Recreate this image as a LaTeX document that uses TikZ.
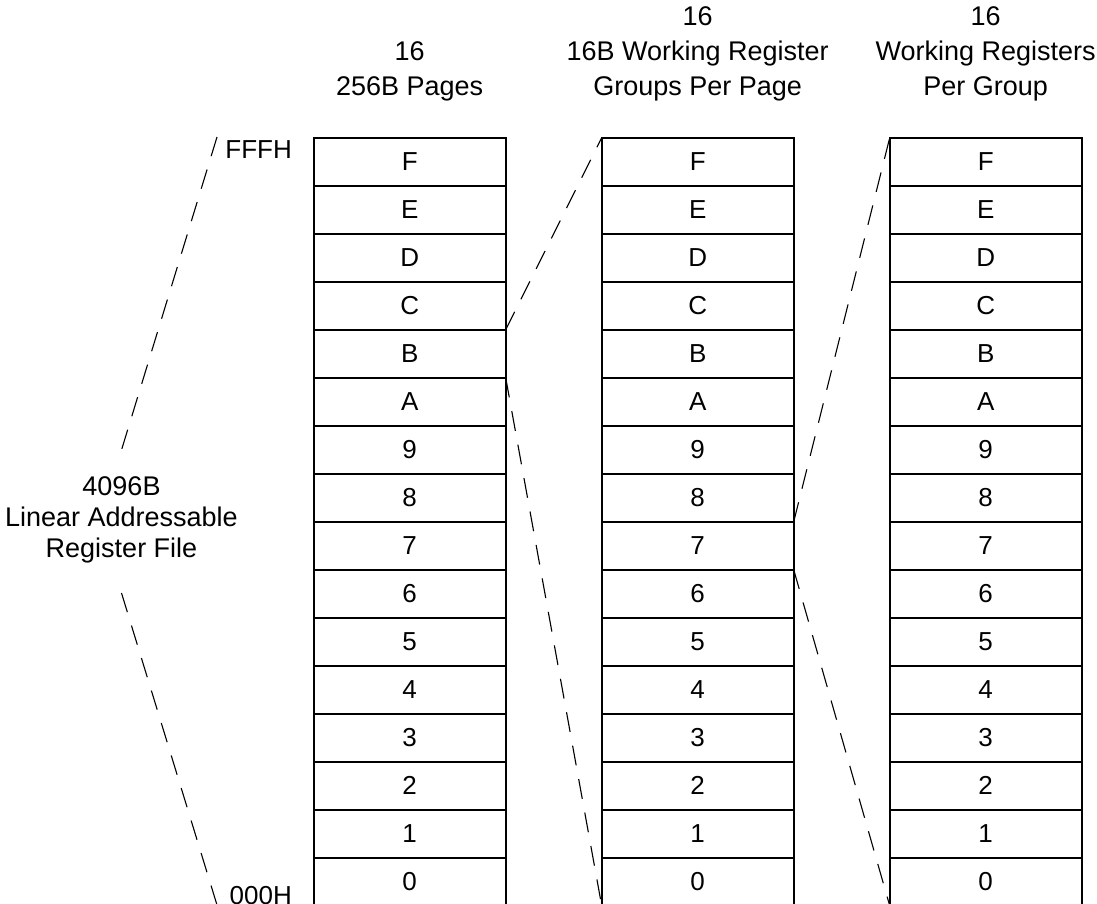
\documentclass[tikz,border=0pt]{standalone}
\usepackage{fontspec}
\setmainfont{Liberation Sans}
\begin{document}
\begin{tikzpicture}[x=1pt,y=-1pt,
  cell/.style={draw=black,line width=2pt,minimum width=192pt,minimum height=48pt,inner sep=0pt,outer sep=0pt,font=\fontsize{26}{30}\selectfont},
  lbl/.style={align=center,inner sep=0pt,font=\fontsize{27}{35}\selectfont},
  side/.style={inner sep=0pt,font=\fontsize{26}{30}\selectfont},
  dashline/.style={draw=black,line width=1.1pt,dash pattern=on 20pt off 14pt}]
\useasboundingbox (0,0) rectangle (1097,903);
\foreach \col/\cx in {a/409.7,b/697.7,c/985.7}{
  \foreach \t [count=\k from 0] in {F,E,D,C,B,A,9,8,7,6,5,4,3,2,1,0}{
    \node[cell] (\col-\k) at (\cx,161.7+48*\k) {\t};
  }
}
\node[lbl] (h1) at (409.7,71) {16\\256B Pages};
\node[lbl] (h2) at (697.7,53.5) {16\\16B Working Register\\Groups Per Page};
\node[lbl] (h3) at (985.7,53.5) {16\\Working Registers\\Per Group};
\node[lbl,font=\fontsize{27}{31}\selectfont] (file) at (121.5,520) {4096B\\Linear Addressable\\Register File};
\node[side,anchor=east] (top) at (292,150) {FFFH};
\node[side,anchor=east] (bot) at (292,896) {000H};
\coordinate (ltop) at (217,137);
\coordinate (lt) at (121.5,450);
\coordinate (lb) at (121.5,593);
\coordinate (lbot) at (217,905);
\draw[dashline] (ltop) -- (lt);
\draw[dashline] (lb) -- (lbot);
\draw[dashline] (a-3.south east) -- (b-0.north west);
\draw[dashline] (a-4.south east) -- (b-15.south west);
\draw[dashline] (b-7.south east) -- (c-0.north west);
\draw[dashline] (b-8.south east) -- (c-15.south west);
\end{tikzpicture}
\end{document}
